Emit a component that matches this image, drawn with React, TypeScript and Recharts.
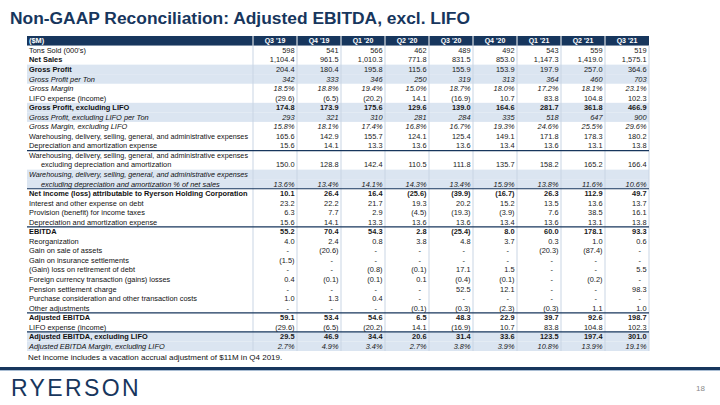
import { ScatterChart, Scatter, XAxis, YAxis, ReferenceArea } from "recharts";

// Ryerson non-GAAP reconciliation, $M per quarter
const columns = ["Q3 '19", "Q4 '19", "Q1 '20", "Q2 '20", "Q3 '20", "Q4 '20", "Q1 '21", "Q2 '21", "Q3 '21"];

const tonsSold = [598, 541, 566, 462, 489, 492, 543, 559, 519];
const netSales = [1104.4, 961.5, 1010.3, 771.8, 831.5, 853.0, 1147.3, 1419.0, 1575.1];
const grossProfit = [204.4, 180.4, 195.8, 115.6, 155.9, 153.9, 197.9, 257.0, 364.6];
const grossProfitPerTon = [342, 333, 346, 250, 319, 313, 364, 460, 703];
const grossMargin = [18.5, 18.8, 19.4, 15.0, 18.7, 18.0, 17.2, 18.1, 23.1];
const lifoExpense = [-29.6, -6.5, -20.2, 14.1, -16.9, 10.7, 83.8, 104.8, 102.3];
const gpExLifo = [174.8, 173.9, 175.6, 129.6, 139.0, 164.6, 281.7, 361.8, 466.9];
const gpExLifoPerTon = [293, 321, 310, 281, 284, 335, 518, 647, 900];
const gmExLifo = [15.8, 18.1, 17.4, 16.8, 16.7, 19.3, 24.6, 25.5, 29.6];
const warehousing = [165.6, 142.9, 155.7, 124.1, 125.4, 149.1, 171.8, 178.3, 180.2];
const depreciation = [15.6, 14.1, 13.3, 13.6, 13.6, 13.4, 13.6, 13.1, 13.8];
const warehousingExDa = [150.0, 128.8, 142.4, 110.5, 111.8, 135.7, 158.2, 165.2, 166.4];
const warehousingPct = [13.6, 13.4, 14.1, 14.3, 13.4, 15.9, 13.8, 11.6, 10.6];
const netIncome = [10.1, 26.4, 16.4, -25.6, -39.9, -16.7, 26.3, 112.9, 49.7];
const interest = [23.2, 22.2, 21.7, 19.3, 20.2, 15.2, 13.5, 13.6, 13.7];
const incomeTaxes = [6.3, 7.7, 2.9, -4.5, -19.3, -3.9, 7.6, 38.5, 16.1];
const ebitda = [55.2, 70.4, 54.3, 2.8, -25.4, 8.0, 60.0, 178.1, 93.3];
const reorganization = [4.0, 2.4, 0.8, 3.8, 4.8, 3.7, 0.3, 1.0, 0.6];
const gainOnSale = [null, -20.6, null, null, null, null, -20.3, -87.4, null];
const gainInsurance = [-1.5, null, null, null, null, null, null, null, null];
const debtRetirement = [null, null, -0.8, -0.1, 17.1, 1.5, null, null, 5.5];
const fxLosses = [0.4, -0.1, -0.1, 0.1, -0.4, -0.1, null, -0.2, null];
const pensionCharge = [null, null, null, null, 52.5, 12.1, null, null, 98.3];
const purchaseCosts = [1.0, 1.3, 0.4, null, null, null, null, null, null];
const otherAdjustments = [null, null, null, -0.1, -0.3, -2.3, -0.3, 1.1, 1.0];
const adjEbitda = [59.1, 53.4, 54.6, 6.5, 48.3, 22.9, 39.7, 92.6, 198.7];
const adjEbitdaExLifo = [29.5, 46.9, 34.4, 20.6, 31.4, 33.6, 123.5, 197.4, 301.0];
const adjEbitdaMargin = [2.7, 4.9, 3.4, 2.7, 3.8, 3.9, 10.8, 13.9, 19.1];

const WH_LABEL = "Warehousing, delivery, selling, general, and administrative expenses";

type Fmt = "int" | "dec" | "pct";
type Row = {
  key: string;
  label: string;
  values?: (number | null)[];
  fmt?: Fmt;
  labelBold?: boolean;
  valueBold?: boolean;
  italic?: boolean;
  shade?: boolean;
  indent?: boolean;
  rule?: boolean;
  header?: boolean;
};

const rows: Row[] = [
  { key: "hdr", label: "($M)", header: true },
  { key: "tons", label: "Tons Sold (000's)", values: tonsSold, fmt: "int" },
  { key: "sales", label: "Net Sales", values: netSales, fmt: "dec", labelBold: true },
  { key: "gp", label: "Gross Profit", values: grossProfit, fmt: "dec", labelBold: true, shade: true },
  { key: "gpTon", label: "Gross Profit per Ton", values: grossProfitPerTon, fmt: "int", italic: true, shade: true },
  { key: "gm", label: "Gross Margin", values: grossMargin, fmt: "pct", italic: true },
  { key: "lifo1", label: "LIFO expense (income)", values: lifoExpense, fmt: "dec" },
  { key: "gpx", label: "Gross Profit, excluding LIFO", values: gpExLifo, fmt: "dec", labelBold: true, valueBold: true, shade: true },
  { key: "gpxTon", label: "Gross Profit, excluding LIFO per Ton", values: gpExLifoPerTon, fmt: "int", italic: true, shade: true },
  { key: "gmx", label: "Gross Margin, excluding LIFO", values: gmExLifo, fmt: "pct", italic: true },
  { key: "whs", label: WH_LABEL, values: warehousing, fmt: "dec" },
  { key: "da1", label: "Depreciation and amortization expense", values: depreciation, fmt: "dec", rule: true },
  { key: "whx1", label: WH_LABEL },
  { key: "whx2", label: "excluding depreciation and amortization", values: warehousingExDa, fmt: "dec", indent: true },
  { key: "whp1", label: WH_LABEL, italic: true, shade: true },
  { key: "whp2", label: "excluding depreciation and amortization % of net sales", values: warehousingPct, fmt: "pct", italic: true, shade: true, indent: true, rule: true },
  { key: "ni", label: "Net income (loss) attributable to Ryerson Holding Corporation", values: netIncome, fmt: "dec", labelBold: true, valueBold: true },
  { key: "int", label: "Interest and other expense on debt", values: interest, fmt: "dec" },
  { key: "tax", label: "Provision (benefit) for income taxes", values: incomeTaxes, fmt: "dec" },
  { key: "da2", label: "Depreciation and amortization expense", values: depreciation, fmt: "dec", rule: true },
  { key: "ebitda", label: "EBITDA", values: ebitda, fmt: "dec", labelBold: true, valueBold: true },
  { key: "reorg", label: "Reorganization", values: reorganization, fmt: "dec" },
  { key: "sale", label: "Gain on sale of assets", values: gainOnSale, fmt: "dec" },
  { key: "ins", label: "Gain on insurance settlements", values: gainInsurance, fmt: "dec" },
  { key: "debt", label: "(Gain) loss on retirement of debt", values: debtRetirement, fmt: "dec" },
  { key: "fx", label: "Foreign currency transaction (gains) losses", values: fxLosses, fmt: "dec" },
  { key: "pension", label: "Pension settlement charge", values: pensionCharge, fmt: "dec" },
  { key: "purchase", label: "Purchase consideration and other transaction costs", values: purchaseCosts, fmt: "dec" },
  { key: "other", label: "Other adjustments", values: otherAdjustments, fmt: "dec", rule: true },
  { key: "adj", label: "Adjusted EBITDA", values: adjEbitda, fmt: "dec", labelBold: true, valueBold: true },
  { key: "lifo2", label: "LIFO expense (income)", values: lifoExpense, fmt: "dec", rule: true },
  { key: "adjx", label: "Adjusted EBITDA, excluding LIFO", values: adjEbitdaExLifo, fmt: "dec", labelBold: true, valueBold: true, shade: true },
  { key: "adjm", label: "Adjusted EBITDA Margin, excluding LIFO", values: adjEbitdaMargin, fmt: "pct", italic: true, shade: true },
];

const NAVY = "#17365d";
const SHADE = "#dbe5f1";
const GRID = "#c9d5e4";
const FONT = "'Liberation Sans', Arial, sans-serif";
const TABLE_LEFT = 27;
const LABEL_W = 226;
const COL_W = 44;
const FS = 7.4;

const rowByKey: Record<string, Row> = {};
rows.forEach((r) => (rowByKey[r.key] = r));

const fmt = (v: number | null, f?: Fmt) => {
  if (v == null) return "-";
  const d = f === "int" ? 0 : 1;
  const s = Math.abs(v).toLocaleString("en-US", { minimumFractionDigits: d, maximumFractionDigits: d });
  const t = f === "pct" ? s + "%" : s;
  return v < 0 ? `(${t})` : t;
};

const cells = rows.flatMap((r) =>
  columns.map((c, i) => ({
    col: c,
    row: r.key,
    text: r.header ? c : r.values ? fmt(r.values[i], r.fmt) : "",
  }))
);

const renderLabel = (p: any) => {
  const r = rowByKey[p.payload.value];
  if (!r) return <g />;
  // the long warehousing label is squeezed to fit the label column
  const squeeze = r.label === WH_LABEL ? { textLength: 219, lengthAdjust: "spacingAndGlyphs" } : {};
  return (
    <text
      x={TABLE_LEFT + (r.indent ? 14 : 2)}
      y={p.y}
      dy="0.35em"
      fontSize={FS}
      fontFamily={FONT}
      fontWeight={r.header || r.labelBold ? 700 : 400}
      fontStyle={r.italic ? "italic" : "normal"}
      fill={r.header ? "#fff" : "#111"}
      {...squeeze}
    >
      {r.label}
    </text>
  );
};

const renderCell = (p: any) => {
  const d = p.payload;
  const r = rowByKey[d.row];
  if (!d.text || p.cx == null) return <g />;
  if (r.header) {
    return (
      <text x={p.cx} y={p.cy} dy="0.35em" textAnchor="middle" fontSize={7} fontFamily={FONT} fontWeight={700} fill="#fff">
        {d.text}
      </text>
    );
  }
  const dash = d.text === "-";
  return (
    <text
      x={p.cx + COL_W / 2 - (dash ? 8 : 2.5)}
      y={p.cy}
      dy="0.35em"
      textAnchor="end"
      fontSize={FS}
      fontFamily={FONT}
      fontWeight={r.valueBold ? 700 : 400}
      fontStyle={r.italic ? "italic" : "normal"}
      fill="#1a1a1a"
    >
      {d.text}
    </text>
  );
};

const rowBand = (fill: string) => (p: any) => (
  <rect x={p.x - LABEL_W} y={p.y} width={p.width + LABEL_W} height={p.height} fill={fill} />
);

const ruleBelow = (p: any) => (
  <line x1={p.x - LABEL_W} x2={p.x + p.width} y1={p.y + p.height} y2={p.y + p.height} stroke={NAVY} strokeWidth={1.2} />
);

const colLine = (color: string, last: boolean) => (p: any) => (
  <g>
    <line x1={p.x} x2={p.x} y1={p.y} y2={p.y + p.height} stroke={color} strokeWidth={1} />
    {last && <line x1={p.x + p.width} x2={p.x + p.width} y1={p.y} y2={p.y + p.height} stroke={color} strokeWidth={1} />}
  </g>
);

export default function App() {
  return (
    <div style={{ position: "absolute", left: 0, top: 0, width: 720, height: 405, background: "#fff", fontFamily: FONT, overflow: "hidden" }}>
      <div style={{ position: "absolute", left: 10, top: 9, fontSize: 17.4, lineHeight: "18px", fontWeight: 700, color: NAVY, whiteSpace: "nowrap" }}>
        Non-GAAP Reconciliation: Adjusted EBITDA, excl. LIFO
      </div>
      <div style={{ position: "absolute", left: 0, top: 0 }}>
        <ScatterChart width={720} height={405} margin={{ top: 36, right: 71, bottom: 54, left: TABLE_LEFT }}>
          <XAxis type="category" dataKey="col" allowDuplicatedCategory={false} hide />
          <YAxis
            type="category"
            dataKey="row"
            allowDuplicatedCategory={false}
            reversed
            width={LABEL_W}
            axisLine={false}
            tickLine={false}
            interval={0}
            tick={renderLabel}
          />
          <ReferenceArea y1="hdr" y2="hdr" ifOverflow="visible" shape={rowBand(NAVY)} />
          {rows.filter((r) => r.shade).map((r) => (
            <ReferenceArea key={"s" + r.key} y1={r.key} y2={r.key} ifOverflow="visible" shape={rowBand(SHADE)} />
          ))}
          {columns.map((c) => (
            <ReferenceArea key={"h" + c} x1={c} x2={c} y1="hdr" y2="hdr" ifOverflow="visible" shape={colLine("#fff", false)} />
          ))}
          {columns.map((c, i) => (
            <ReferenceArea key={"b" + c} x1={c} x2={c} y1="tons" y2="adjm" ifOverflow="visible" shape={colLine(GRID, i === columns.length - 1)} />
          ))}
          {rows.filter((r) => r.rule).map((r) => (
            <ReferenceArea key={"r" + r.key} y1={r.key} y2={r.key} ifOverflow="visible" shape={ruleBelow} />
          ))}
          <Scatter data={cells} shape={renderCell} isAnimationActive={false} />
        </ScatterChart>
      </div>
      <div style={{ position: "absolute", left: 28, top: 353, fontSize: 8, lineHeight: "10px", color: "#111", whiteSpace: "nowrap" }}>
        Net income includes a vacation accrual adjustment of $11M in Q4 2019.
      </div>
      <div style={{ position: "absolute", left: 0, top: 367, width: 720, height: 3, background: NAVY }} />
      <div style={{ position: "absolute", left: 0, top: 370, width: 720, height: 1, background: "#a9bdd3" }} />
      <div style={{ position: "absolute", left: 11, top: 376, fontSize: 23, lineHeight: "25px", letterSpacing: 2.4, color: NAVY, whiteSpace: "nowrap" }}>
        RYERSON
      </div>
      <div style={{ position: "absolute", left: 696, top: 384, fontSize: 8, lineHeight: "10px", color: "#8a8a8a" }}>18</div>
    </div>
  );
}
